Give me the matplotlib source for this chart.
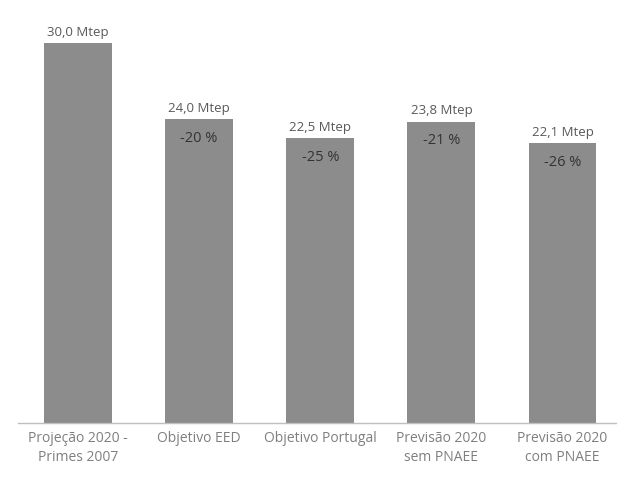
import matplotlib
matplotlib.use("Agg")
import matplotlib.pyplot as plt

# Consumo de energia primária em 2020 (Mtep)
categories = ["Projeção 2020 -\nPrimes 2007", "Objetivo EED", "Objetivo Portugal",
              "Previsão 2020\nsem PNAEE", "Previsão 2020\ncom PNAEE"]
values = [30.0, 24.0, 22.5, 23.8, 22.1]
value_labels = ["30,0 Mtep", "24,0 Mtep", "22,5 Mtep", "23,8 Mtep", "22,1 Mtep"]
pct_labels = ["", "-20 %", "-25 %", "-21 %", "-26 %"]

plt.rcParams["font.family"] = ["Open Sans", "DejaVu Sans"]

fig = plt.figure(figsize=(6.17, 4.94), dpi=100)
ax = fig.add_axes([17.5 / 617, 71 / 494, 599.5 / 617, 418 / 494])

x = range(len(values))
bars = ax.bar(x, values, width=0.56, color="#8c8c8c")

for i, (b, v) in enumerate(zip(bars, values)):
    cx = b.get_x() + b.get_width() / 2
    ax.annotate(value_labels[i], (cx, v), xytext=(0, 3), textcoords="offset points",
                ha="center", va="bottom", fontsize=9.5, color="#595959")
    if pct_labels[i]:
        ax.annotate(pct_labels[i], (cx, v), xytext=(0, -14), textcoords="offset points",
                    ha="center", va="center", fontsize=10.5, color="#333333")

ax.set_xlim(-0.5, 4.45)
ax.set_ylim(0, 33)
ax.set_xticks(list(x))
ax.set_xticklabels(categories, fontsize=10, color="#7f7f7f", linespacing=1.3)
ax.tick_params(axis="x", length=0, pad=6)
ax.set_yticks([])
for s in ("top", "right", "left"):
    ax.spines[s].set_visible(False)
ax.spines["bottom"].set_color("#bfbfbf")
ax.spines["bottom"].set_linewidth(1)

fig.savefig("out.png", dpi=100)
